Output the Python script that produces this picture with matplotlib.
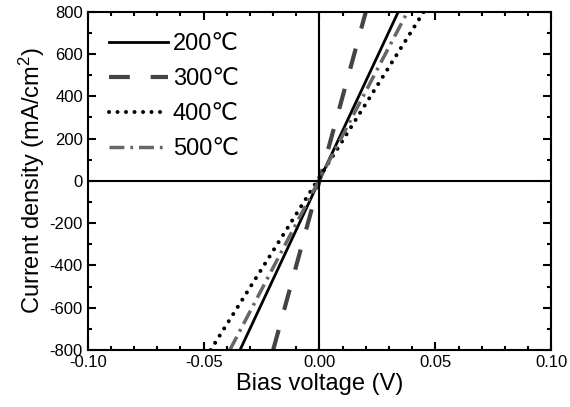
import matplotlib
matplotlib.use('Agg')
import matplotlib.pyplot as plt
from matplotlib.ticker import MultipleLocator, FormatStrFormatter

plt.rcParams['font.family'] = ['Liberation Sans', 'DejaVu Sans']
plt.rcParams['mathtext.fontset'] = 'custom'
plt.rcParams['mathtext.rm'] = 'Liberation Sans'
plt.rcParams['mathtext.it'] = 'Liberation Sans:italic'
plt.rcParams['axes.unicode_minus'] = False

# current density range (mA/cm^2) and bias voltage at each end (V)
current = [-800, 800]
v_200 = [-0.0343, 0.0340]
v_300 = [-0.0200, 0.0200]
v_400 = [-0.0470, 0.0450]
v_500 = [-0.0387, 0.0380]

labels = ['200\u2103', '300\u2103', '400\u2103', '500\u2103']

fig = plt.figure(figsize=(5.7, 4.07), dpi=100)
ax = fig.add_axes([0.154, 0.14, 0.813, 0.831])

ax.plot(v_200, current, color='black', linestyle='-', linewidth=2, label=labels[0])
ax.plot(v_300, current, color='#444444', linestyle=(0, (5, 5)), linewidth=3, label=labels[1])
ax.plot(v_400, current, color='black', linestyle=(0, (0.01, 2.1)), linewidth=2.9,
        dash_capstyle='round', label=labels[2])
ax.plot(v_500, current, color='#666666', linestyle=(0, (4.3, 1.7, 0.8, 1.7)), linewidth=2.5,
        label=labels[3])

ax.axhline(0, color='black', linewidth=1.5)
ax.axvline(0, color='black', linewidth=1.5)

ax.set_xlim(-0.10, 0.10)
ax.set_ylim(-800, 800)
ax.xaxis.set_major_locator(MultipleLocator(0.05))
ax.xaxis.set_minor_locator(MultipleLocator(0.01))
ax.yaxis.set_major_locator(MultipleLocator(200))
ax.yaxis.set_minor_locator(MultipleLocator(100))
ax.xaxis.set_major_formatter(FormatStrFormatter('%.2f'))

ax.tick_params(which='both', direction='in', top=True, right=True, labelsize=12)
ax.tick_params(which='major', length=6, width=1.5)
ax.tick_params(which='minor', length=3, width=1.5)
for s in ax.spines.values():
    s.set_linewidth(1.5)

ax.set_xlabel('Bias voltage (V)', fontsize=17, labelpad=2)
ax.set_ylabel('Current density (mA/cm$^2$)', fontsize=17, labelpad=2)

ax.legend(loc='upper left', frameon=False, fontsize=17, handlelength=2.5,
          handletextpad=0.2, labelspacing=0.55, borderaxespad=0.5)

fig.savefig('out.png', dpi=100)
